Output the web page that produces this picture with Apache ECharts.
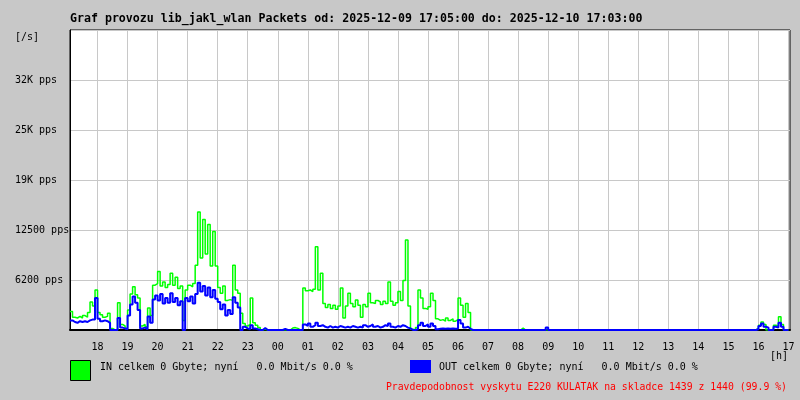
<!DOCTYPE html>
<html><head><meta charset="utf-8">
<script src="https://cdn.jsdelivr.net/npm/echarts@6/dist/echarts.min.js"></script>
<style>html,body{margin:0;padding:0;background:#c8c8c8}#c{width:800px;height:400px}</style>
</head><body><div id="c"></div>
<script>
const titleText = 'Graf provozu lib_jakl_wlan Packets od: 2025-12-09 17:05:00 do: 2025-12-10 17:03:00';
const unitText = '[/s]';
const hourUnitText = '[h]';
const inLegendText = 'IN celkem 0 Gbyte; nyní   0.0 Mbit/s 0.0 %';
const outLegendText = 'OUT celkem 0 Gbyte; nyní   0.0 Mbit/s 0.0 %';
const footerText = 'Pravdepodobnost vyskytu E220 KULATAK na skladce 1439 z 1440 (99.9 %)';

// x axis: minutes after 17:00 of 2025-12-09
const startMinute = 5;
const stepMinutes = 5;
const endMinute = 1443;
const hourTicks = [60,120,180,240,300,360,420,480,540,600,660,720,780,840,900,960,1020,1080,1140,1200,1260,1320,1380,1440];
const hourLabels = ['18','19','20','21','22','23','00','01','02','03','04','05','06','07','08','09','10','11','12','13','14','15','16','17'];

// y axis (packets per second)
const yTicks = [0,6250,12500,18750,25000,31250,37500];
const yTickLabels = ['','6200 pps','12500 pps','19K pps','25K pps','32K pps',''];

// IN packets/s, 5-minute samples from 17:05
const inValues = [
2300,1600,1500,1700,1500,1800,1600,2200,3500,3000,
5000,2200,1900,1600,1700,2100,200,0,0,3400,
700,500,200,2500,4500,5400,4400,4000,500,700,
400,2750,1800,5600,5800,7300,5500,6000,5300,5700,
7100,5600,6600,5200,5500,1200,5000,5600,5400,5800,
8100,14750,9000,13800,9500,13200,8000,12300,8000,5300,
4600,5500,3700,3800,3700,8100,5000,4600,2100,800,
500,700,4000,900,600,300,0,100,0,0,
0,0,0,0,0,0,0,0,250,300,
200,0,0,5250,4900,5000,4800,5100,10400,5000,
7100,3300,2800,3200,2700,3100,2600,3000,5250,1500,
3000,4600,3300,2900,3750,3100,1600,3200,2900,4600,
3400,3300,3700,3500,3200,3600,3300,6000,3600,3100,
3400,4800,3700,6200,11250,3000,100,0,300,5000,
4000,2700,2600,2900,4600,3700,1400,1200,1300,1100,
1500,1200,1400,1100,1300,4000,3100,1600,3300,2200,
0,0,0,0,0,0,0,0,0,0,
0,0,0,0,0,0,0,0,0,0,
250,0,0,0,0,0,0,0,0,0,
0,0,0,0,0,0,0,0,0,0,
0,0,0,0,0,0,0,0,0,0,
0,0,0,0,0,0,0,0,0,0,
0,0,0,0,0,0,0,0,0,0,
0,0,0,0,0,0,0,0,0,0,
0,0,0,0,0,0,0,0,0,0,
0,0,0,0,0,0,0,0,0,0,
0,0,0,0,0,0,0,0,0,0,
0,0,0,0,200,600,1000,700,0,0,
0,600,500,1650,700,0,0,0
];

// OUT packets/s, 5-minute samples from 17:05
const outValues = [
1200,1000,900,1100,1000,1100,1000,1200,1300,1300,
4000,1400,1100,1200,1100,900,0,0,0,1500,
300,200,100,1800,3200,4200,3400,2500,200,300,
100,1700,900,3800,4300,3700,4500,3300,4000,3400,
4600,3500,4000,3100,3600,0,4000,3600,4200,3300,
4500,5900,4800,5500,4300,5300,4100,5000,3900,3500,
2600,3200,1800,2500,2000,4100,3400,2800,0,400,
200,100,600,200,100,0,0,250,0,0,
0,0,0,0,0,150,0,0,0,0,
0,0,0,700,500,800,400,600,900,500,
600,400,300,500,300,400,300,500,400,300,
400,300,500,400,300,400,300,600,400,500,
700,400,500,300,400,600,500,800,400,300,
500,400,600,500,300,200,0,0,100,600,
900,500,700,400,800,500,100,150,200,150,
200,150,200,150,200,1250,800,300,400,150,
0,0,0,0,0,0,0,0,0,0,
0,0,0,0,0,0,0,0,0,0,
0,0,0,0,0,0,0,0,0,0,
300,0,0,0,0,0,0,0,0,0,
0,0,0,0,0,0,0,0,0,0,
0,0,0,0,0,0,0,0,0,0,
0,0,0,0,0,0,0,0,0,0,
0,0,0,0,0,0,0,0,0,0,
0,0,0,0,0,0,0,0,0,0,
0,0,0,0,0,0,0,0,0,0,
0,0,0,0,0,0,0,0,0,0,
0,0,0,0,100,500,800,400,300,0,
0,400,300,900,400,0,0,0
];

const mono = "'DejaVu Sans Mono', 'Liberation Mono', monospace";
const toPairs = arr => arr.map((v, i) => [startMinute + i * stepMinutes, v]);

const chart = echarts.init(document.getElementById('c'), null, {renderer: 'canvas'});
chart.setOption({
  animation: false,
  backgroundColor: '#c8c8c8',
  grid: {left: 70, right: 10, top: 30, bottom: 70, show: true, backgroundColor: '#ffffff', borderColor: '#000000', borderWidth: 1},
  xAxis: {
    type: 'value', min: startMinute, max: endMinute,
    axisLine: {show: true, onZero: false, lineStyle: {color: '#000', width: 2}},
    axisTick: {show: false, customValues: hourTicks},
    axisLabel: {
      customValues: hourTicks, color: '#000', fontFamily: mono, fontSize: 10, margin: 12,
      formatter: v => { const k = hourTicks.indexOf(v); return k >= 0 ? hourLabels[k] : ''; }
    },
    splitLine: {show: true, lineStyle: {color: '#c8c8c8', width: 1}}
  },
  yAxis: {
    type: 'value', min: 0, max: 37500, interval: 6250,
    axisLine: {show: true, lineStyle: {color: '#000', width: 1}},
    axisTick: {show: false},
    axisLabel: {
      color: '#000', fontFamily: mono, fontSize: 10, align: 'left', margin: 55, padding: [5, 0, 0, 0],
      formatter: v => { const k = yTicks.indexOf(v); return k >= 0 ? yTickLabels[k] : ''; }
    },
    splitLine: {show: true, lineStyle: {color: '#c8c8c8', width: 1}}
  },
  series: [
    {name: 'IN', type: 'line', step: 'end', symbol: 'none', data: toPairs(inValues),
     lineStyle: {color: '#00ff00', width: 1.5}, itemStyle: {color: '#00ff00'}, z: 2},
    {name: 'OUT', type: 'line', step: 'end', symbol: 'none', data: toPairs(outValues),
     lineStyle: {color: '#0000ff', width: 2}, itemStyle: {color: '#0000ff'}, z: 3}
  ],
  graphic: [
    {type: 'text', x: 70, y: 19, style: {text: titleText, font: 'bold 11.6px ' + mono, fill: '#000', textVerticalAlign: 'middle'}},
    {type: 'text', x: 15, y: 37, style: {text: unitText, font: '10px ' + mono, fill: '#000', textVerticalAlign: 'middle'}},
    {type: 'text', x: 770, y: 356, style: {text: hourUnitText, font: '10px ' + mono, fill: '#000', textVerticalAlign: 'middle'}},
    {type: 'rect', shape: {x: 70.5, y: 360.5, width: 20, height: 20}, style: {fill: '#00ff00', stroke: '#000', lineWidth: 1}},
    {type: 'text', x: 100, y: 367, style: {text: inLegendText, font: '10px ' + mono, fill: '#000', textVerticalAlign: 'middle'}},
    {type: 'rect', shape: {x: 410, y: 360, width: 21, height: 13}, style: {fill: '#0000ff'}},
    {type: 'text', x: 439, y: 367, style: {text: outLegendText, font: '10px ' + mono, fill: '#000', textVerticalAlign: 'middle'}},
    {type: 'text', x: 787, y: 387, style: {text: footerText, font: '9.8px ' + mono, fill: '#ff0000', textAlign: 'right', textVerticalAlign: 'middle'}}
  ]
});
</script></body></html>
